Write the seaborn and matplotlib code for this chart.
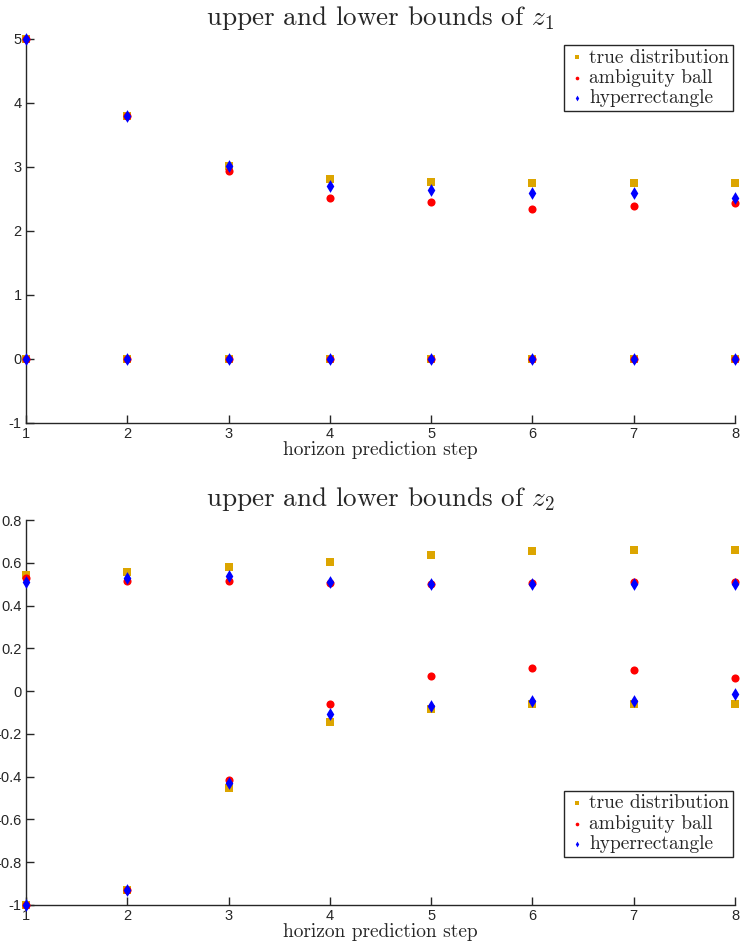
import matplotlib
matplotlib.use("Agg")
from matplotlib import pyplot as plt
import numpy as np
import pandas as pd
import seaborn as sns

steps = [1, 2, 3, 4, 5, 6, 7, 8]
series_names = ["true distribution", "ambiguity ball", "hyperrectangle"]

# z1 bounds
z1_upper_true = [5.0, 3.80, 3.02, 2.82, 2.76, 2.75, 2.75, 2.75]
z1_upper_ball = [5.0, 3.79, 2.93, 2.51, 2.46, 2.35, 2.39, 2.43]
z1_upper_hyper = [5.0, 3.79, 3.01, 2.70, 2.64, 2.60, 2.60, 2.52]
z1_lower_true = [0, 0, 0, 0, 0, 0, 0, 0]
z1_lower_ball = [0, 0, 0, 0, 0, 0, 0, 0]
z1_lower_hyper = [0, 0, 0, 0, 0, 0, 0, 0]

# z2 bounds
z2_upper_true = [0.543, 0.555, 0.578, 0.603, 0.637, 0.655, 0.658, 0.660]
z2_upper_ball = [0.530, 0.515, 0.515, 0.505, 0.502, 0.505, 0.510, 0.512]
z2_upper_hyper = [0.510, 0.530, 0.540, 0.512, 0.500, 0.500, 0.500, 0.500]
z2_lower_true = [-1.0, -0.93, -0.452, -0.145, -0.085, -0.062, -0.058, -0.062]
z2_lower_ball = [-1.0, -0.93, -0.415, -0.062, 0.070, 0.110, 0.100, 0.060]
z2_lower_hyper = [-1.0, -0.928, -0.430, -0.105, -0.068, -0.045, -0.045, -0.012]

colors = {"true distribution": "#DCA500", "ambiguity ball": "#FF0000", "hyperrectangle": "#0000FF"}
markers = {"true distribution": "s", "ambiguity ball": "o", "hyperrectangle": "d"}
sizes = {"true distribution": 26, "ambiguity ball": 34, "hyperrectangle": 42}

sns.set_style("ticks")
plt.rcParams["mathtext.fontset"] = "cm"
plt.rcParams["font.family"] = ["Liberation Sans", "DejaVu Sans"]
serif = ["cmr10", "DejaVu Serif"]

fig = plt.figure(figsize=(7.4, 9.5), dpi=100)
ax1 = fig.add_axes([26 / 740, 1 - 423 / 950, 709 / 740, 384 / 950])
ax2 = fig.add_axes([26 / 740, 1 - 905 / 950, 709 / 740, 385 / 950])


def draw(ax, upper, lower, title, ylim, yticks, yticklabels, legend_loc, legend_anchor):
    for name, up, lo in zip(series_names, upper, lower):
        df = pd.DataFrame({"step": steps + steps, "value": up + lo})
        sns.scatterplot(data=df, x="step", y="value", ax=ax, color=colors[name],
                        marker=markers[name], s=sizes[name], linewidth=0,
                        label=name, clip_on=False, zorder=3)
    ax.set_xlim(1, 8)
    ax.set_ylim(*ylim)
    ax.set_xticks(steps)
    ax.set_yticks(yticks)
    ax.set_yticklabels(yticklabels)
    ax.set_title(title, family=serif, fontsize=19.5, pad=10)
    ax.set_xlabel("horizon prediction step", family=serif, fontsize=14, labelpad=0)
    ax.set_ylabel("")
    sns.despine(ax=ax)
    for side in ["left", "bottom"]:
        ax.spines[side].set_color("#262626")
        ax.spines[side].set_linewidth(1.0)
    ax.tick_params(direction="in", length=6, width=1, colors="#262626",
                   labelsize=10.5, pad=3)
    leg = ax.legend(loc=legend_loc, bbox_to_anchor=legend_anchor, prop={"family": serif, "size": 14},
                    markerscale=0.45, handletextpad=0.1, handlelength=1.0,
                    borderpad=0.2, labelspacing=0.12, fancybox=False, framealpha=1,
                    edgecolor="#262626", borderaxespad=0)
    leg.get_frame().set_linewidth(1.0)


draw(ax1,
     [z1_upper_true, z1_upper_ball, z1_upper_hyper],
     [z1_lower_true, z1_lower_ball, z1_lower_hyper],
     r"upper and lower bounds of $z_1$", (-1, 5),
     [-1, 0, 1, 2, 3, 4, 5], ["-1", "0", "1", "2", "3", "4", "5"],
     "upper right", (0.997, 0.985))

z2_ticks = [-1, -0.8, -0.6, -0.4, -0.2, 0, 0.2, 0.4, 0.6, 0.8]
draw(ax2,
     [z2_upper_true, z2_upper_ball, z2_upper_hyper],
     [z2_lower_true, z2_lower_ball, z2_lower_hyper],
     r"upper and lower bounds of $z_2$", (-1, 0.8),
     z2_ticks, ["-1", "-0.8", "-0.6", "-0.4", "-0.2", "0", "0.2", "0.4", "0.6", "0.8"],
     "lower right", (0.997, 0.125))

fig.savefig("out.png", dpi=100)
